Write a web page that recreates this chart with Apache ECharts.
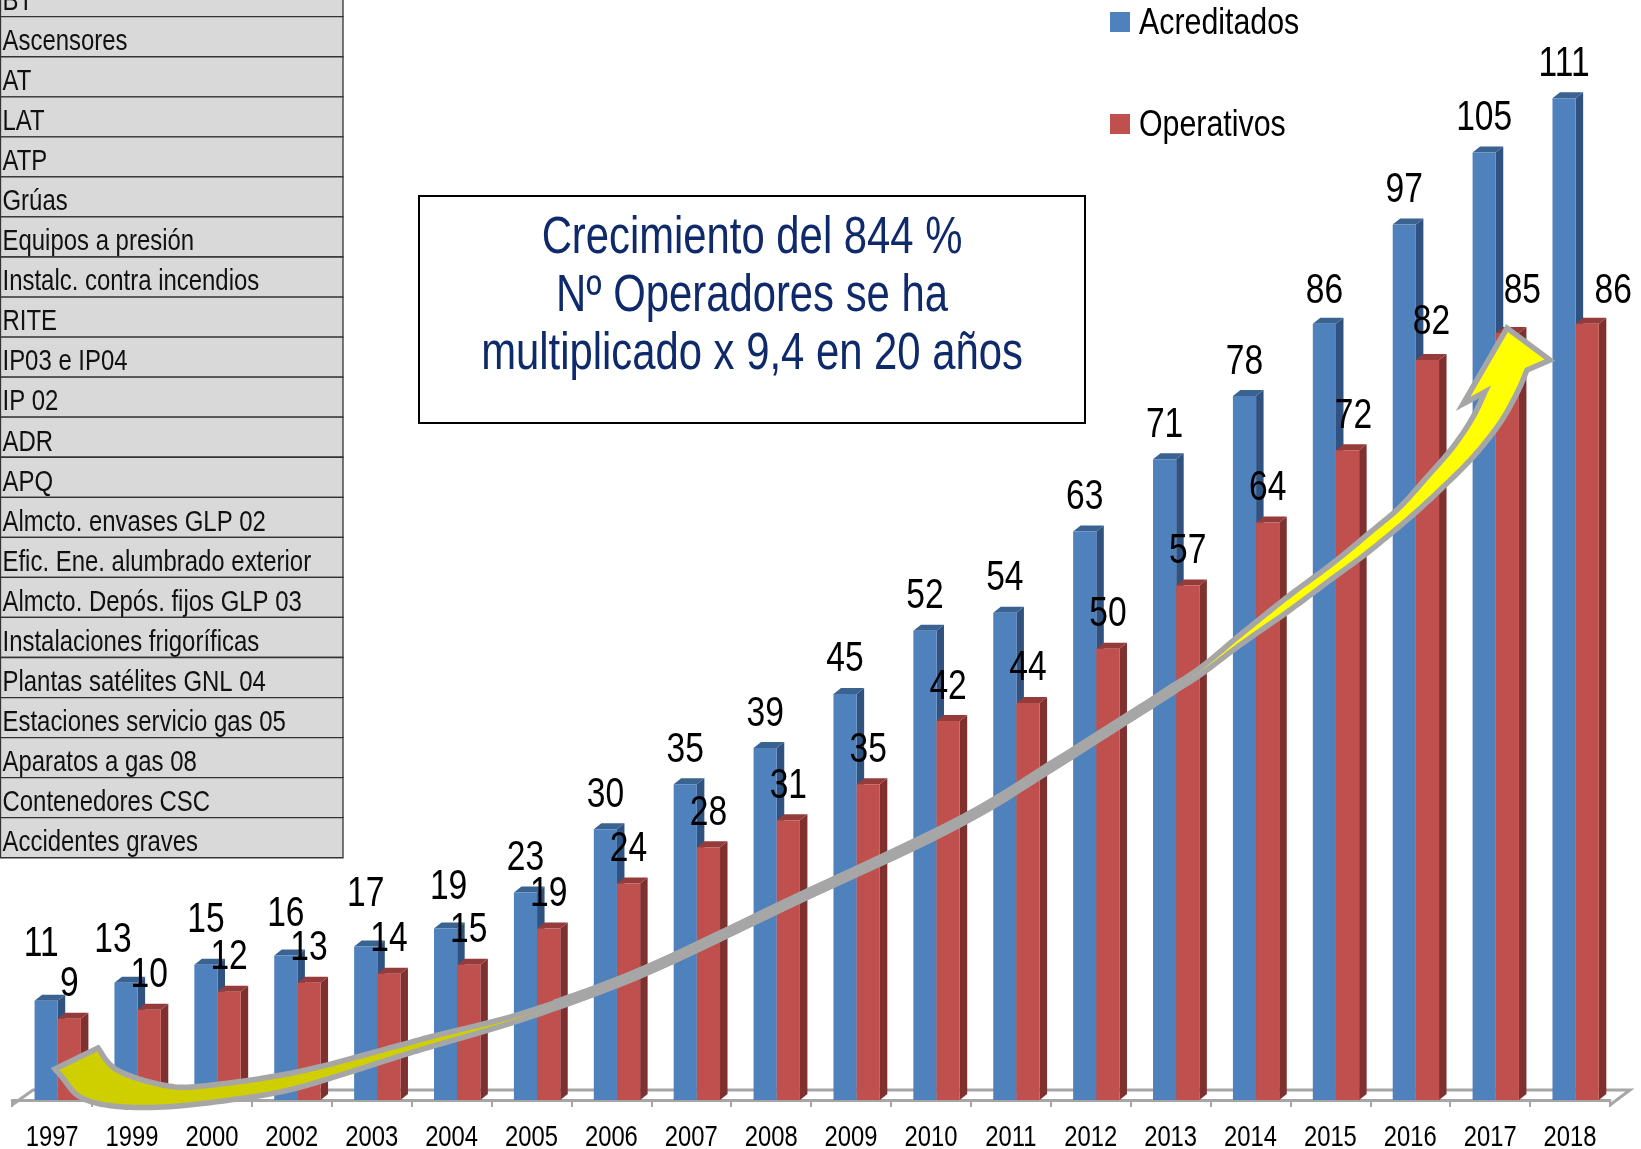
<!DOCTYPE html>
<html>
<head>
<meta charset="utf-8">
<title>Operadores</title>
<script src="https://cdn.jsdelivr.net/npm/echarts@6/dist/echarts.min.js"></script>
<style>
  html, body { margin: 0; padding: 0; background: #fff; }
  #chart { width: 1641px; height: 1149px; }
</style>
</head>
<body>
<div id="chart"></div>
<script>
const years = ["1997", "1999", "2000", "2002", "2003", "2004", "2005", "2006", "2007", "2008", "2009", "2010", "2011", "2012", "2013", "2014", "2015", "2016", "2017", "2018"];
const acreditados = [11, 13, 15, 16, 17, 19, 23, 30, 35, 39, 45, 52, 54, 63, 71, 78, 86, 97, 105, 111];
const operativos = [9, 10, 12, 13, 14, 15, 19, 24, 28, 31, 35, 42, 44, 50, 57, 64, 72, 82, 85, 86];
const tableRows = ["BT", "Ascensores", "AT", "LAT", "ATP", "Grúas", "Equipos a presión", "Instalc. contra incendios", "RITE", "IP03 e IP04", "IP 02", "ADR", "APQ", "Almcto. envases GLP 02", "Efic. Ene. alumbrado exterior", "Almcto. Depós. fijos GLP 03", "Instalaciones frigoríficas", "Plantas satélites GNL 04", "Estaciones servicio gas 05", "Aparatos a gas 08", "Contenedores CSC", "Accidentes graves"];
const boxLines = ["Crecimiento del 844 %", "Nº Operadores se ha", "multiplicado x 9,4 en 20 años"];

// hand placed labels in the original, nudges in px from the default spot
const acreditadosNudgeX = [-5, -13, 0, 0, 0, 3, 0, 0, 0, 0, 0, 0, 0, 0, 0, 0, 0, 0, 0, 0];
const acreditadosNudgeY = [22, 8, 10, 7, 18, 7, 0, 0, 0, 0, 0, 0, 0, 0, 0, 0, -2, 0, 0, 0];
const operativosNudgeX = [0, 0, 0, 0, 0, 0, 0, 0, 0, 0, 0, 0, 0, 0, 0, 0, 6, 4, 15, 26];
const operativosNudgeY = [0, 0, 0, 0, 0, 0, 0, 0, 0, 0, 0, 0, 0, 0, 0, 0, 0, 4, 7, -2];

// no narrow face installed, Arial Narrow is about Arial squeezed to 82%
const FONT = '"Liberation Sans", sans-serif';
const NARROW = 0.82;
const GRID_LINE = "#a6a6a6";

const smooth = pts => {
    const out = [];
    for (let i = 0; i < pts.length - 1; i++) {
        const p0 = pts[i - 1] || pts[i], p1 = pts[i], p2 = pts[i + 1], p3 = pts[i + 2] || p2;
        for (let s = 0; s < 10; s++) {
            const t = s / 10, t2 = t * t, t3 = t2 * t;
            out.push([0, 1].map(k => 0.5 * (2 * p1[k] + (p2[k] - p0[k]) * t + (2 * p0[k] - 5 * p1[k] + 4 * p2[k] - p3[k]) * t2 + (3 * p1[k] - p0[k] - 3 * p2[k] + p3[k]) * t3)));
        }
    }
    out.push(pts[pts.length - 1]);
    return out;
};

const arrowUpper = [[98, 1048], [117, 1070], [163, 1085], [203, 1086], [297, 1072], [397, 1046], [430, 1037], [530, 1011], [647, 967], [795, 897], [963, 817], [1131, 713], [1160, 694], [1200, 668], [1240, 635], [1290, 595], [1333, 563], [1373, 530], [1400, 507], [1427, 477], [1453, 447], [1473, 417], [1485, 392]];
const arrowLower = [[1527, 370], [1517, 393], [1500, 423], [1473, 457], [1440, 490], [1407, 520], [1367, 553], [1333, 578], [1290, 610], [1240, 645], [1200, 675], [1160, 700], [1131, 719], [963, 823], [795, 903], [647, 973], [530, 1017], [430, 1047], [397, 1057], [297, 1088], [230, 1100], [163, 1107], [113, 1106], [80, 1097], [62, 1077], [55, 1069]];
const arrowPoints = smooth(arrowUpper).concat([[1463, 404], [1507, 328], [1550, 360]], smooth(arrowLower));
// the thin stretch of the arrow reads as solid grey
const arrowWaist = smooth([[555, 1005], [647, 970], [795, 900], [963, 820], [1050, 767], [1131, 716], [1175, 688]]);

const barItem = (side, colors, nudgeX, nudgeY) => (params, api) => {
    const cat = api.value(0), val = api.value(1);
    const [cx, top] = api.coord([cat, val]);
    const base = api.coord([cat, 0])[1];
    const band = api.size([1, 0])[0];
    const w = band * 0.29, dx = 7.5, dy = 6;
    const x0 = cx + band * 0.07 - (side === 0 ? w : 0);
    return {
        type: "group",
        children: [{
            type: "polygon",
            shape: {points: [[x0 + w, top], [x0 + w + dx, top - dy], [x0 + w + dx, base - dy], [x0 + w, base]]},
            style: {fill: colors[1]}
        }, {
            type: "polygon",
            shape: {points: [[x0, top], [x0 + dx, top - dy], [x0 + w + dx, top - dy], [x0 + w, top]]},
            style: {fill: colors[2]}
        }, {
            type: "rect",
            shape: {x: x0, y: top, width: w, height: base - top},
            style: {fill: colors[0]}
        }, {
            type: "text",
            z2: 100,
            x: x0 + w / 2 + nudgeX[cat],
            y: top - 34 - nudgeY[cat],
            scaleX: 0.8,
            style: {
                text: String(val),
                fontFamily: FONT,
                fontSize: 42,
                fill: "#000",
                textAlign: "center",
                textVerticalAlign: "middle"
            }
        }]
    };
};

// year labels need the squeeze too, axisLabel can't scale text
const yearItem = (params, api) => {
    const cat = api.value(0);
    const [cx, y] = api.coord([cat, 0]);
    return {
        type: "text",
        x: cx,
        y: y + 38,
        scaleX: NARROW,
        style: {text: years[cat], fontFamily: FONT, fontSize: 29, fill: "#000", textAlign: "center", textVerticalAlign: "middle"}
    };
};

const tableGraphics = [];
tableRows.forEach((name, i) => {
    const bottom = 16.7 + i * 40.05;
    tableGraphics.push({
        type: "rect",
        shape: {x: 0.5, y: bottom - 40.05, width: 342.5, height: 40.05},
        style: {fill: "#d9d9d9", stroke: "#333", lineWidth: 1.3}
    }, {
        type: "text",
        x: 2.5,
        y: bottom - 0.3,
        scaleX: NARROW,
        style: {text: name, fontFamily: FONT, fontSize: 29.2, fill: "#111", textVerticalAlign: "bottom"}
    });
});

const boxGraphics = [{
    type: "rect",
    shape: {x: 419, y: 196, width: 666, height: 227},
    style: {fill: "#fff", stroke: "#000", lineWidth: 2}
}].concat(boxLines.map((line, i) => ({
    type: "text",
    x: 752,
    y: 238.5 + i * 58,
    scaleX: NARROW,
    style: {text: line, fontFamily: FONT, fontSize: 51, fill: "#0f2a6b", textAlign: "center", textVerticalAlign: "middle"}
})));

const legendGraphics = [["Acreditados", "#4f81bd", 22], ["Operativos", "#c0504d", 124]].flatMap(([name, color, y]) => [{
    type: "rect",
    shape: {x: 1110, y: y - 10, width: 20, height: 20},
    style: {fill: color}
}, {
    type: "text",
    x: 1139,
    y: y + 2,
    scaleX: NARROW,
    style: {text: name, fontFamily: FONT, fontSize: 37, fill: "#000", textVerticalAlign: "middle"}
}]);

const chart = echarts.init(document.getElementById("chart"), null, {renderer: "canvas"});
chart.setOption({
    animation: false,
    backgroundColor: "#fff",
    grid: {left: 12.2, right: 31, top: 17, bottom: 49, containLabel: false},
    xAxis: {
        type: "category",
        data: years,
        offset: 5,
        axisLine: {show: true, lineStyle: {color: GRID_LINE, width: 3}},
        axisTick: {show: true, length: 7, lineStyle: {color: GRID_LINE, width: 2}},
        axisLabel: {show: false}
    },
    yAxis: {type: "value", min: 0, max: 120, show: false},
    series: [{
        name: "Acreditados",
        type: "custom",
        z: 2,
        clip: false,
        itemStyle: {color: "#4f81bd"},
        encode: {x: 0, y: 1},
        data: acreditados.map((v, i) => [i, v]),
        renderItem: barItem(0, ["#4f81bd", "#2f5280", "#3a6392"], acreditadosNudgeX, acreditadosNudgeY)
    }, {
        name: "Operativos",
        type: "custom",
        z: 2,
        clip: false,
        itemStyle: {color: "#c0504d"},
        encode: {x: 0, y: 1},
        data: operativos.map((v, i) => [i, v]),
        renderItem: barItem(1, ["#c0504d", "#7f3130", "#953c3a"], operativosNudgeX, operativosNudgeY)
    }, {
        name: "Años",
        type: "custom",
        z: 2,
        clip: false,
        encode: {x: 0, y: 1},
        data: years.map((y, i) => [i, 0]),
        renderItem: yearItem
    }],
    graphic: [{
        type: "polyline",
        z: 0,
        shape: {points: [[12, 1105], [33, 1090], [1630, 1090], [1610, 1105]]},
        style: {fill: "none", stroke: GRID_LINE, lineWidth: 3}
    }].concat(tableGraphics, boxGraphics, legendGraphics, [{
        type: "polygon",
        z: 10,
        shape: {points: arrowPoints},
        style: {
            fill: new echarts.graphic.LinearGradient(0, 0, 1, 0, [
                {offset: 0, color: "#cfcf00"},
                {offset: 0.33, color: "#d0d000"},
                {offset: 0.5, color: "#ffff00"},
                {offset: 1, color: "#ffff00"}
            ]),
            stroke: GRID_LINE,
            lineWidth: 5.5,
            lineJoin: "miter"
        }
    }, {
        type: "polyline",
        z: 11,
        shape: {points: arrowWaist},
        style: {fill: "none", stroke: GRID_LINE, lineWidth: 11}
    }])
});
</script>
</body>
</html>
